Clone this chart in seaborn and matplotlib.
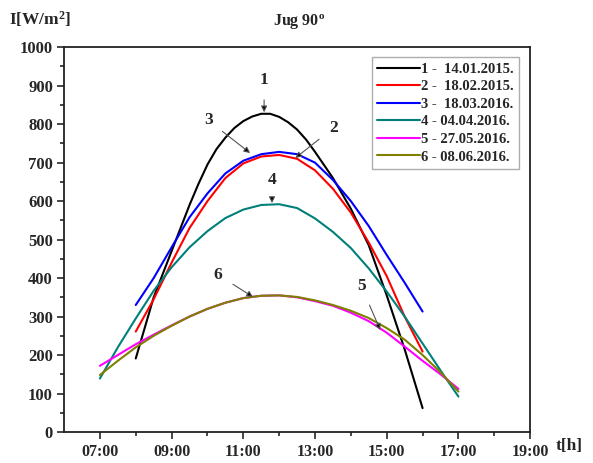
import matplotlib
matplotlib.use("Agg")
import matplotlib.pyplot as plt
import seaborn as sns
import pandas as pd
from matplotlib.ticker import MultipleLocator, FixedLocator

# ---- data ----
t_1 = [8.0, 8.5, 9.0, 9.5, 9.75, 10.0, 10.25, 10.5, 10.75, 11.0, 11.25, 11.5, 11.75, 12.0,
       12.25, 12.5, 12.75, 13.0, 13.5, 14.0, 14.5, 15.0, 15.5, 16.0]
s1 = [191, 350, 470, 590, 645, 695, 735, 765, 790, 808, 820, 827, 827, 819,
      805, 786, 760, 728, 660, 580, 485, 355, 215, 62]

t_8_16 = [8.0, 8.5, 9.0, 9.5, 10.0, 10.5, 11.0, 11.5, 12.0, 12.5, 13.0, 13.5, 14.0, 14.5, 15.0, 15.5, 16.0]
t_7_17 = [7.0, 7.5] + t_8_16 + [16.5, 17.0]

s2 = [261, 345, 440, 530, 600, 660, 698, 716, 720, 710, 680, 632, 570, 492, 405, 300, 209]
s3 = [330, 400, 480, 558, 620, 672, 705, 722, 728, 722, 700, 655, 600, 535, 460, 388, 313]
s4 = [139, 220, 295, 367, 428, 480, 522, 556, 578, 590, 592, 582, 555, 520, 478, 425, 365, 300, 230, 160, 92]
s5 = [172, 200, 228, 253, 277, 300, 320, 336, 348, 354, 355, 350, 340, 328, 310, 288, 258, 222, 185, 150, 112]
s6 = [148, 185, 220, 250, 276, 300, 320, 336, 348, 354, 355, 351, 342, 330, 315, 296, 270, 240, 200, 155, 105]

labels = ["1 -  14.01.2015.", "2 -  18.02.2015.", "3 -  18.03.2016.",
          "4 - 04.04.2016.", "5 - 27.05.2016.", "6 - 08.06.2016."]
colors = ["#000000", "#ff0000", "#0000ff", "#00807a", "#ff00ff", "#808000"]
times = [t_1, t_8_16, t_8_16, t_7_17, t_7_17, t_7_17]
series = [s1, s2, s3, s4, s5, s6]

xticks = [7, 9, 11, 13, 15, 17, 19]
xticklabels = ["07:00", "09:00", "11:00", "13:00", "15:00", "17:00", "19:00"]

sns.set_theme(style="ticks")
plt.rcParams['font.family'] = ['Liberation Serif', 'DejaVu Serif']
plt.rcParams['font.weight'] = 'bold'
plt.rcParams['mathtext.fontset'] = 'custom'
plt.rcParams['mathtext.rm'] = 'Liberation Serif:bold'
plt.rcParams['mathtext.bf'] = 'Liberation Serif:bold'
plt.rcParams['mathtext.it'] = 'Liberation Serif:bold'

fig = plt.figure(figsize=(5.93, 4.63), dpi=100)
ax = fig.add_axes([0.108, 0.067, 0.786, 0.831])

for t, s, lab, c in zip(times, series, labels, colors):
    df = pd.DataFrame({"t": t, "I": s})
    sns.lineplot(data=df, x="t", y="I", ax=ax, color=c, lw=1.5, label=lab)

ax.set_xlim(6, 19)
ax.set_ylim(0, 1000)
ax.xaxis.set_major_locator(FixedLocator(xticks))
ax.set_xticklabels(xticklabels)
ax.xaxis.set_minor_locator(FixedLocator([8, 10, 12, 14, 16, 18]))
ax.yaxis.set_major_locator(MultipleLocator(100))
ax.yaxis.set_minor_locator(MultipleLocator(50))
ax.tick_params(which='major', direction='out', length=5, width=1.2, labelsize=12, pad=3)
ax.tick_params(which='minor', direction='out', length=3, width=1.2)
ax.tick_params(axis='x', pad=4, labelsize=11.5)
for lbl in ax.get_xticklabels() + ax.get_yticklabels():
    lbl.set_fontweight('bold')
for sp in ax.spines.values():
    sp.set_visible(True)
    sp.set_linewidth(1.3)
    sp.set_color('#222222')
ax.set_xlabel("")
ax.set_ylabel("")

leg = ax.legend(loc='upper right', bbox_to_anchor=(0.985, 0.985), frameon=True, fancybox=False,
                edgecolor='#999999', fontsize=10.5, handlelength=2.9, handletextpad=0.1,
                labelspacing=0.3, borderpad=0.35, borderaxespad=0.3)
leg.get_frame().set_linewidth(1.0)
for txt in leg.get_texts():
    txt.set_fontweight('bold')

fig.text(0.016, 0.958, "I[W/m$^{2}$]", fontsize=12.5, fontweight='bold', ha='left', va='center')
fig.text(0.505, 0.952, "Jug 90$^{\\mathrm{o}}$", fontsize=11.5, fontweight='bold', ha='center', va='center')
fig.text(0.937, 0.037, "t[h]", fontsize=12.5, fontweight='bold', ha='left', va='center')

ann = [("1", (11.58, 914), (11.58, 831)),
       ("3", (10.02, 810), (11.19, 725)),
       ("2", (13.51, 790), (12.45, 712)),
       ("4", (11.80, 655), (11.80, 595)),
       ("6", (10.30, 408), (11.27, 351)),
       ("5", (14.29, 379), (14.82, 265))]
for txt, xyt, xy in ann:
    ax.annotate(txt, xy=xy, xytext=xyt, fontsize=12.5, fontweight='bold', ha='center', va='center',
                arrowprops=dict(arrowstyle='-|>', fc='black', ec='#555555', lw=0.8,
                                mutation_scale=9, shrinkA=6, shrinkB=0))

fig.savefig("out.png", dpi=100)
